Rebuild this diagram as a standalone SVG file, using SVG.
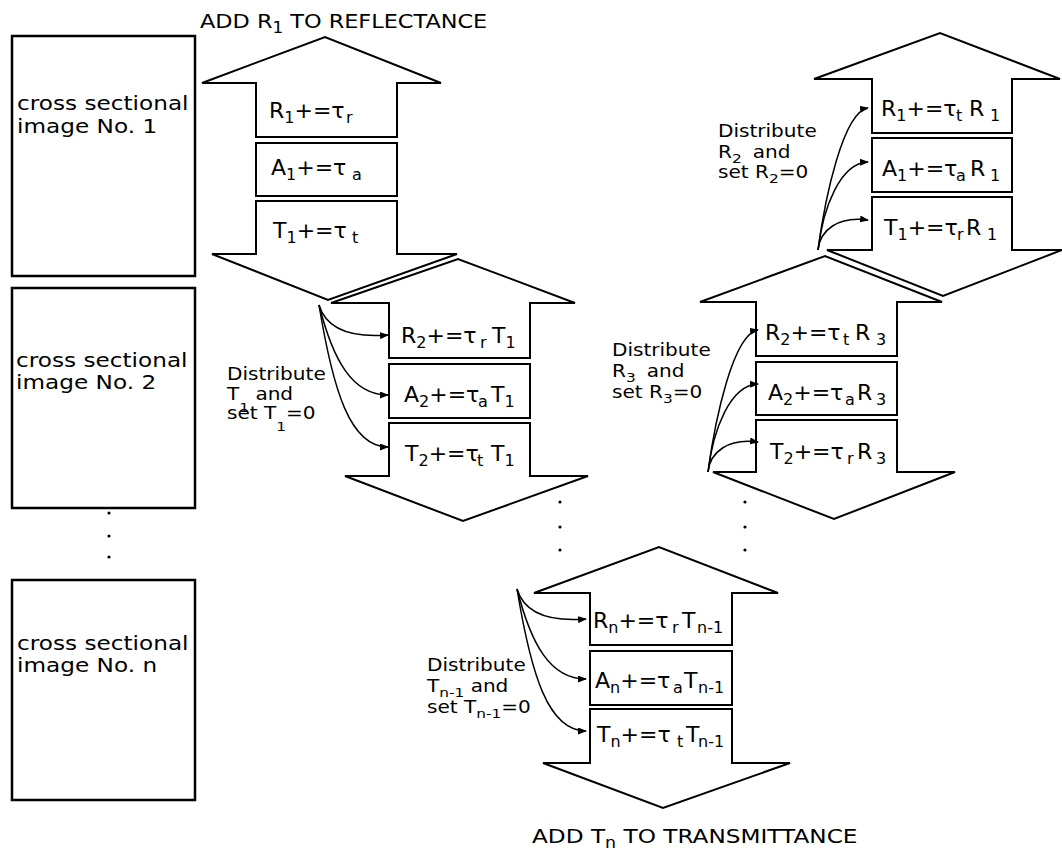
<svg xmlns="http://www.w3.org/2000/svg" width="1062" height="850" viewBox="0 0 1062 850">
<defs>
<style>
.f{font-family:"DejaVu Sans","Liberation Sans",sans-serif;fill:#000}
.bt{font-size:22px}
.s{font-size:16px}
.ts{font-size:15px}
.lbl{font-size:17px}
.ls{font-size:13px}
.cs{font-size:19px}
.ttl{font-size:20px}
.sh{fill:none;stroke:#000;stroke-width:2;stroke-linejoin:miter}
.img{fill:none;stroke:#000;stroke-width:2.5}
.cn{fill:none;stroke:#000;stroke-width:1.5}
</style>
<marker id="ah" markerUnits="userSpaceOnUse" markerWidth="9" markerHeight="7" refX="8" refY="3.5" orient="auto">
<path d="M0,0 L9,3.5 L0,7 z" fill="#000"/>
</marker>
</defs>
<rect width="1062" height="850" fill="#fff"/>

<g id="image1">
<rect class="img" x="12" y="36" width="183" height="240"/>
<text class="f cs" transform="translate(17,110) scale(1.22,1)">cross sectional</text>
<text class="f cs" transform="translate(17,133) scale(1.22,1)">image No. 1</text>
</g>
<g id="image2">
<rect class="img" x="12" y="288" width="183" height="220"/>
<text class="f cs" transform="translate(16,367) scale(1.22,1)">cross sectional</text>
<text class="f cs" transform="translate(16,389) scale(1.22,1)">image No. 2</text>
</g>
<g id="imagen">
<rect class="img" x="12" y="580" width="183" height="220"/>
<text class="f cs" transform="translate(17,650) scale(1.22,1)">cross sectional</text>
<text class="f cs" transform="translate(17,672) scale(1.22,1)">image No. n</text>
</g>
<g id="dots" fill="#000">
<circle cx="109" cy="513" r="1.6"/><circle cx="109" cy="536" r="1.6"/><circle cx="109" cy="557" r="1.6"/>
<circle cx="560" cy="502" r="1.6"/><circle cx="560" cy="527" r="1.6"/><circle cx="560" cy="550" r="1.6"/>
<circle cx="745" cy="502" r="1.6"/><circle cx="745" cy="527" r="1.6"/><circle cx="745" cy="550" r="1.6"/>
</g>

<g id="title-top">
<text class="f ttl" transform="translate(200,28) scale(1.12,1)">ADD R<tspan class="ts" dy="5">1</tspan><tspan dy="-5"> TO REFLECTANCE</tspan></text>
</g>
<g id="title-bottom">
<text class="f ttl" transform="translate(532,843) scale(1.16,1)">ADD T<tspan class="ts" dy="5">n</tspan><tspan dy="-5"> TO TRANSMITTANCE</tspan></text>
</g>

<g id="block1">
<polygon class="sh" points="202,83 325,37 441,83 397,83 397,137 256,137 256,83"/>
<rect class="sh" x="256" y="143" width="141" height="53"/>
<polygon class="sh" points="256,201 397,201 397,254 457,254 328,300 212,254 256,254"/>
<text class="f bt" x="269" y="118">R<tspan class="s" dy="5">1</tspan><tspan dy="-5">+=τ</tspan><tspan class="s" x="346" dy="5">r</tspan></text>
<text class="f bt" x="271" y="175">A<tspan class="s" dy="5">1</tspan><tspan dy="-5">+=τ</tspan><tspan class="s" x="352" dy="5">a</tspan></text>
<text class="f bt" x="273" y="238">T<tspan class="s" dy="5">1</tspan><tspan dy="-5">+=τ</tspan><tspan class="s" x="352" dy="5">t</tspan></text>
</g>

<g id="block2">
<polygon class="sh" points="331,303 458,259 575,303 530,303 530,358 389,358 389,303"/>
<rect class="sh" x="389" y="364" width="141" height="54"/>
<polygon class="sh" points="389,423 530,423 530,476 588,476 463,521 345,476 389,476"/>
<text class="f bt" x="401" y="343">R<tspan class="s" dy="5">2</tspan><tspan dy="-5">+=τ</tspan><tspan class="s" x="480" dy="5">r</tspan><tspan x="492" dy="-5">T</tspan><tspan class="s" dy="5">1</tspan></text>
<text class="f bt" x="404" y="402">A<tspan class="s" dy="5">2</tspan><tspan dy="-5">+=τ</tspan><tspan class="s" x="478" dy="5">a</tspan><tspan x="491" dy="-5">T</tspan><tspan class="s" dy="5">1</tspan></text>
<text class="f bt" x="405" y="461">T<tspan class="s" dy="5">2</tspan><tspan dy="-5">+=τ</tspan><tspan class="s" x="477" dy="5">t</tspan><tspan x="491" dy="-5">T</tspan><tspan class="s" dy="5">1</tspan></text>
</g>

<g id="block3">
<polygon class="sh" points="814,79 940,33 1060,79 1012,79 1012,133 872,133 872,79"/>
<rect class="sh" x="872" y="138" width="140" height="54"/>
<polygon class="sh" points="872,197 1012,197 1012,250 1062,250 943,296 827,250 872,250"/>
<text class="f bt" x="881" y="116">R<tspan class="s" dy="5">1</tspan><tspan dy="-5">+=τ</tspan><tspan class="s" x="956" dy="5">t</tspan><tspan x="969" dy="-5">R</tspan><tspan class="s" x="990" dy="5">1</tspan></text>
<text class="f bt" x="882" y="176">A<tspan class="s" dy="5">1</tspan><tspan dy="-5">+=τ</tspan><tspan class="s" x="956" dy="5">a</tspan><tspan x="970" dy="-5">R</tspan><tspan class="s" x="990" dy="5">1</tspan></text>
<text class="f bt" x="884" y="235">T<tspan class="s" dy="5">1</tspan><tspan dy="-5">+=τ</tspan><tspan class="s" x="957" dy="5">r</tspan><tspan x="966" dy="-5">R</tspan><tspan class="s" x="987" dy="5">1</tspan></text>
</g>

<g id="block4">
<polygon class="sh" points="700,302 825,256 942,302 897,302 897,356 756,356 756,302"/>
<rect class="sh" x="756" y="362" width="141" height="53"/>
<polygon class="sh" points="756,420 897,420 897,472 955,472 834,519 713,472 756,472"/>
<text class="f bt" x="765" y="340">R<tspan class="s" dy="5">2</tspan><tspan dy="-5">+=τ</tspan><tspan class="s" x="843" dy="5">t</tspan><tspan x="855" dy="-5">R</tspan><tspan class="s" x="876" dy="5">3</tspan></text>
<text class="f bt" x="768" y="400">A<tspan class="s" dy="5">2</tspan><tspan dy="-5">+=τ</tspan><tspan class="s" x="845" dy="5">a</tspan><tspan x="857" dy="-5">R</tspan><tspan class="s" x="876" dy="5">3</tspan></text>
<text class="f bt" x="770" y="459">T<tspan class="s" dy="5">2</tspan><tspan dy="-5">+=τ</tspan><tspan class="s" x="847" dy="5">r</tspan><tspan x="857" dy="-5">R</tspan><tspan class="s" x="876" dy="5">3</tspan></text>
</g>

<g id="block5">
<polygon class="sh" points="534,593 659,547 778,593 732,593 732,645 590,645 590,593"/>
<rect class="sh" x="590" y="651" width="142" height="54"/>
<polygon class="sh" points="590,709 732,709 732,763 790,763 663,808 543,763 590,763"/>
<text class="f bt" x="593" y="628">R<tspan class="s" dy="5">n</tspan><tspan dy="-5">+=τ</tspan><tspan class="s" x="672" dy="5">r</tspan><tspan x="682" dy="-5">T</tspan><tspan class="s" x="697" dy="5">n-1</tspan></text>
<text class="f bt" x="595" y="688">A<tspan class="s" dy="5">n</tspan><tspan dy="-5">+=τ</tspan><tspan class="s" x="673" dy="5">a</tspan><tspan x="684" dy="-5">T</tspan><tspan class="s" x="698" dy="5">n-1</tspan></text>
<text class="f bt" x="597" y="742">T<tspan class="s" dy="5">n</tspan><tspan dy="-5">+=τ</tspan><tspan class="s" x="677" dy="5">t</tspan><tspan x="686" dy="-5">T</tspan><tspan class="s" x="698" dy="5">n-1</tspan></text>
</g>

<g id="label2">
<text class="f lbl" transform="translate(227,380) scale(1.18,1)">Distribute</text>
<text class="f lbl" transform="translate(227,400) scale(1.18,1)">T<tspan class="ls" dy="12">1</tspan><tspan dy="-12"> and</tspan></text>
<text class="f lbl" transform="translate(227,419) scale(1.18,1)">set T<tspan class="ls" dy="12">1</tspan><tspan dy="-12">=0</tspan></text>
</g>
<g id="label3">
<text class="f lbl" transform="translate(718,137) scale(1.18,1)">Distribute</text>
<text class="f lbl" transform="translate(718,158) scale(1.18,1)">R<tspan class="ls" dy="5">2</tspan><tspan dx="4" dy="-5"> and</tspan></text>
<text class="f lbl" transform="translate(718,178) scale(1.18,1)">set R<tspan class="ls" dy="5">2</tspan><tspan dy="-5">=0</tspan></text>
</g>
<g id="label4">
<text class="f lbl" transform="translate(612,356) scale(1.18,1)">Distribute</text>
<text class="f lbl" transform="translate(612,377) scale(1.18,1)">R<tspan class="ls" dy="5">3</tspan><tspan dx="4" dy="-5"> and</tspan></text>
<text class="f lbl" transform="translate(612,398) scale(1.18,1)">set R<tspan class="ls" dy="5">3</tspan><tspan dy="-5">=0</tspan></text>
</g>
<g id="label5">
<text class="f lbl" transform="translate(427,671) scale(1.18,1)">Distribute</text>
<text class="f lbl" transform="translate(427,692) scale(1.18,1)">T<tspan class="ls" dy="5">n-1</tspan><tspan dy="-5"> and</tspan></text>
<text class="f lbl" transform="translate(427,713) scale(1.18,1)">set T<tspan class="ls" dy="5">n-1</tspan><tspan dy="-5">=0</tspan></text>
</g>

<g id="connectors">
<path class="cn" marker-end="url(#ah)" d="M319,305 C326,328 350,338 388,335"/>
<path class="cn" marker-end="url(#ah)" d="M319,305 C333,360 352,395 388,395"/>
<path class="cn" marker-end="url(#ah)" d="M319,305 C333,390 350,447 388,447"/>
<path class="cn" marker-end="url(#ah)" d="M517,589 C524,612 548,622 586,619"/>
<path class="cn" marker-end="url(#ah)" d="M517,589 C531,644 550,679 586,679"/>
<path class="cn" marker-end="url(#ah)" d="M517,589 C531,674 548,731 586,731"/>
<path class="cn" marker-end="url(#ah)" d="M708,472 C715,420 733,334 758,330"/>
<path class="cn" marker-end="url(#ah)" d="M708,472 C713,430 730,385 758,384"/>
<path class="cn" marker-end="url(#ah)" d="M708,472 C710,452 728,438 758,442"/>
<path class="cn" marker-end="url(#ah)" d="M818,250 C825,198 843,112 868,108"/>
<path class="cn" marker-end="url(#ah)" d="M818,250 C823,208 840,163 868,162"/>
<path class="cn" marker-end="url(#ah)" d="M818,250 C820,230 838,216 868,220"/>
</g>
</svg>
